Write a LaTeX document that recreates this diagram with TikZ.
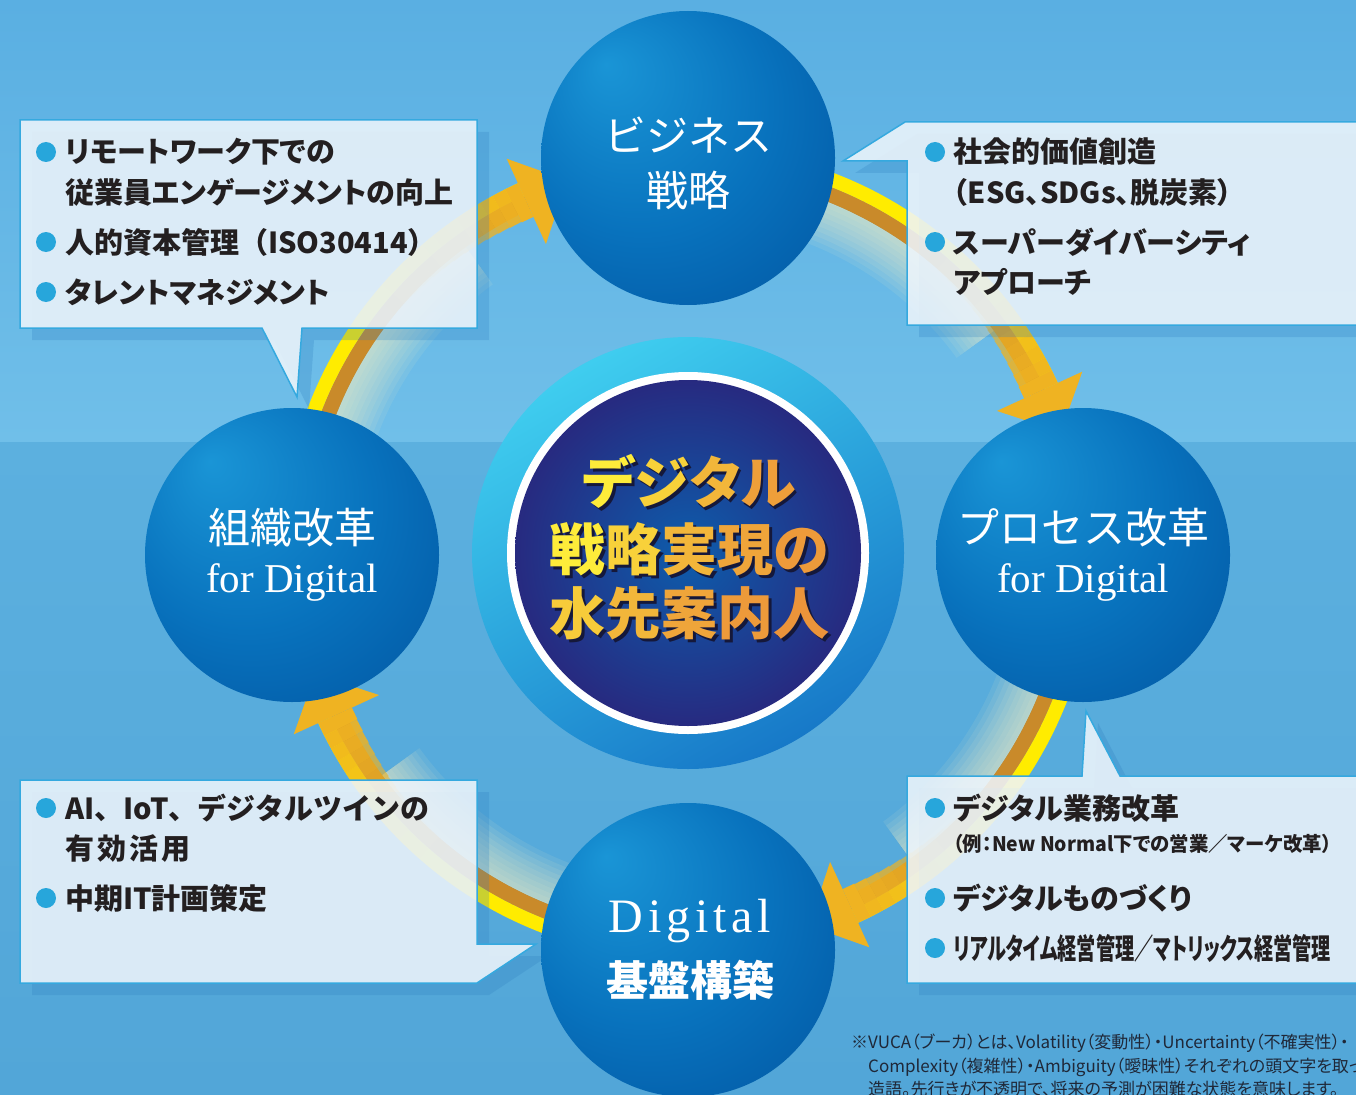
\documentclass[tikz,border=0pt]{standalone}
\usepackage{fontspec}
\usepackage{graphicx}
\newfontfamily\jp[RawFeature=+palt]{Noto Sans CJK JP}
\newfontfamily\jpm{Noto Sans CJK JP}
\newfontfamily\serf{Liberation Serif}
\newfontfamily\serfs[LetterSpace=10]{Liberation Serif}
\definecolor{bgA}{HTML}{5AAFE2}
\definecolor{bgB}{HTML}{70BFE9}
\definecolor{bgC}{HTML}{5CB0DF}
\definecolor{bgD}{HTML}{52A6D8}
\definecolor{boxfill}{HTML}{EEF5FB}
\definecolor{boxline}{HTML}{35A9DF}
\definecolor{shadowc}{HTML}{2E7FC0}
\definecolor{bulletc}{HTML}{27A6DB}
\definecolor{txt}{HTML}{231F20}
\definecolor{bandY}{HTML}{FFEC00}
\definecolor{bandB}{HTML}{C98A2A}
\definecolor{arrowO}{HTML}{EFB322}
\definecolor{glowc}{HTML}{FFF6C4}
\definecolor{ballA}{HTML}{1A95D6}
\definecolor{ballB}{HTML}{0872BD}
\definecolor{ballC}{HTML}{004E9A}
\definecolor{ringA}{HTML}{3FCDEF}
\definecolor{ringB}{HTML}{1779C8}
\definecolor{navyA}{HTML}{0D5DAC}
\definecolor{navyB}{HTML}{272A80}
\definecolor{tty}{HTML}{FFF23A}
\definecolor{tto}{HTML}{E8843A}
\definecolor{ttsh}{HTML}{15183A}
\definecolor{notec}{HTML}{1F2838}
\pgfdeclareradialshading{ballshade}{\pgfpoint{-14bp}{16bp}}{color(0bp)=(ballA); color(22bp)=(ballB); color(46bp)=(ballC); color(50bp)=(ballC)}
\newcommand\tcol[2]{\textcolor{tto!#1!tty}{#2}}
\newcommand\shadowed[2]{\rlap{\kern3pt\raisebox{-3pt}{\textcolor{ttsh}{#1}}}#2}
\tikzset{
  annsec/.style n args={4}{insert path={(#1:#3) arc[start angle=#1,end angle=#2,radius=#3] -- (#2:#4) arc[start angle=#2,end angle=#1,radius=#4] -- cycle}},
  ball/.style={circle, minimum size=294pt, inner sep=0pt, shading=ballshade},
  circtxt/.style={text=white, inner sep=0pt, font=\jpm\fontsize{42}{42}\selectfont},
  fortxt/.style={text=white, inner sep=0pt, font=\serf\fontsize{41}{41}\selectfont},
  bt/.style={anchor=base west, inner sep=0pt, text=txt, font=\jp\bfseries\fontsize{29}{34}\selectfont},
  btf/.style={anchor=base west, inner sep=0pt, text=txt, font=\jpm\bfseries\fontsize{29}{34}\selectfont},
  bts/.style={anchor=base west, inner sep=0pt, text=txt, font=\jp\bfseries\fontsize{20}{24}\selectfont},
  dot/.style={circle, fill=bulletc, minimum size=20pt, inner sep=0pt},
  ttl/.style={inner sep=0pt, font=\jp\bfseries\fontsize{56}{56}\selectfont},
  note/.style={anchor=base west, inner sep=0pt, text=notec, font=\jp\fontsize{17}{17}\selectfont},
  boxstyle/.style={fill=boxfill, fill opacity=0.88, draw=boxline, line width=1.5pt},
  shadowstyle/.style={fill=shadowc, opacity=0.25, xshift=12pt, yshift=-12pt}
}
\def\boxTL{(20,-120) -- (477,-120) -- (477,-328) -- (302,-328) -- (297,-397) -- (262,-328) -- (20,-328) -- cycle}
\def\boxTR{(907,-161) -- (843,-161) -- (905,-122) -- (1370,-122) -- (1370,-325) -- (907,-325) -- cycle}
\def\boxBR{(907,-776) -- (1082,-776) -- (1086,-711) -- (1120,-776) -- (1370,-776) -- (1370,-983) -- (907,-983) -- cycle}
\def\boxBL{(20,-780) -- (477,-780) -- (477,-944) -- (536,-944) -- (477,-983) -- (20,-983) -- cycle}
\begin{document}
\begin{tikzpicture}[x=1pt,y=1pt]
\useasboundingbox (0,0) rectangle (1356,-1094);
\clip (0,0) rectangle (1356,-1094);
% background
\shade[top color=bgA, bottom color=bgB] (0,0) rectangle (1356,-442);
\shade[top color=bgC, bottom color=bgD] (0,-442) rectangle (1356,-1094);
% cycle bands and arrows
\begin{scope}[shift={(688,-553)}]
\foreach \tA in {108,18,-72,-162}{
  \pgfmathsetmacro\arS{\tA+72}
  \pgfmathsetmacro\arB{\tA+6.7}
  \pgfmathsetmacro\arG{\tA+18}
  \foreach \gr in {332,337,...,377}{
    \fill[glowc, opacity=0.085, annsec={\arS}{\arG}{\gr}{378}];
  }
  \fill[bandB, annsec={\arS}{\arB}{378}{393}];
  \fill[bandY, annsec={\arS}{\arB}{393}{407}];
  \foreach \k in {0,...,12}{
    \pgfmathsetmacro\segA{\arB+26-2*\k}
    \pgfmathsetmacro\segB{\arB+24-2*\k}
    \pgfmathsetmacro\segO{(\k+1)/13}
    \pgfmathsetmacro\segR{378-8*\k/12}
    \fill[arrowO, opacity=\segO, annsec={\segA}{\segB}{\segR}{407}];
  }
  \fill[arrowO] (\tA:392) -- (\arB:340) -- (\arB:434) -- cycle;
}
\end{scope}
% callout boxes
\fill[shadowstyle] \boxTL;
\fill[shadowstyle] \boxTR;
\fill[shadowstyle] \boxBR;
\fill[shadowstyle] \boxBL;
\path[boxstyle] \boxTL;
\path[boxstyle] \boxTR;
\path[boxstyle] \boxBR;
\path[boxstyle] \boxBL;
% box texts: top-left
\node[dot] (d1) at (46,-152) {};
\node[bt] (t1a) at (65,-163) {リモートワーク下での};
\node[bt] (t1b) at (65,-203) {従業員エンゲージメントの向上};
\node[dot] (d2) at (46,-242) {};
\node[btf] (t2) at (65,-253) {人的資本管理（ISO30414）};
\node[dot] (d3) at (46,-292) {};
\node[bt] (t3) at (65,-303) {タレントマネジメント};
% top-right
\node[dot] (d4) at (935,-152) {};
\node[bt] (t4a) at (953,-163) {社会的価値創造};
\node[bt] (t4b) at (953,-203) {（ESG、SDGs、脱炭素）};
\node[dot] (d5) at (935,-242) {};
\node[bt] (t5a) at (953,-253) {スーパーダイバーシティ};
\node[bt] (t5b) at (953,-293) {アプローチ};
% bottom-left
\node[dot] (d6) at (46,-808) {};
\node[btf] (t6a) at (65,-819) {AI、IoT、デジタルツインの};
\node[btf] (t6b) at (65,-859) {有\hspace{3pt}効\hspace{3pt}活\hspace{3pt}用};
\node[dot] (d7) at (46,-898) {};
\node[bt] (t7) at (65,-909) {中期IT計画策定};
% bottom-right
\node[dot] (d8) at (935,-808) {};
\node[bt] (t8a) at (953,-819) {デジタル業務改革};
\node[bts] (t8b) at (953,-851) {\scalebox{0.97}[1]{（例：New Normal下での営業／マーケ改革）}};
\node[dot] (d9) at (935,-898) {};
\node[bt] (t9) at (953,-909) {デジタルものづくり};
\node[dot] (d10) at (935,-948) {};
\node[bt] (t10) at (953,-959) {\scalebox{0.66}[1]{リアルタイム経営管理／マトリックス経営管理}};
% four circles
\node[ball] (biz) at (688,-158) {};
\node[ball] (proc) at (1083,-555) {};
\node[ball] (digi) at (688,-950) {};
\node[ball] (org) at (292,-555) {};
\node[circtxt] (bizA) at (688,-135) {ビジネス};
\node[circtxt] (bizB) at (688,-190) {戦略};
\node[circtxt] (orgA) at (292,-528) {組織改革};
\node[fortxt] (orgB) at (292,-582) {for Digital};
\node[circtxt] (procA) at (1083,-528) {プロセス改革};
\node[fortxt] (procB) at (1083,-582) {for Digital};
\node[text=white, inner sep=0pt, font=\serfs\fontsize{48}{48}\selectfont] (digA) at (690,-921) {Digital};
\node[circtxt, font=\jpm\bfseries\fontsize{42}{42}\selectfont] (digB) at (690,-980) {基盤構築};
% centre
\node[circle, minimum size=432pt, inner sep=0pt, shading=axis, top color=ringA, bottom color=ringB, shading angle=30] (ringO) at (688,-553) {};
\node[circle, minimum size=362pt, inner sep=0pt, fill=white] (ringW) at (688,-553) {};
\node[circle, minimum size=346pt, inner sep=0pt, shading=radial, inner color=navyA, outer color=navyB] (ringN) at (688,-553) {};
\node[ttl] (T1) at (689,-483) {\shadowed{デジタル}{\tcol{5}{デ}\tcol{30}{ジ}\tcol{55}{タ}\tcol{75}{ル}}};
\node[ttl] (T2) at (689,-551) {\shadowed{戦略実現の}{\tcol{5}{戦}\tcol{30}{略}\tcol{55}{実}\tcol{70}{現}\tcol{80}{の}}};
\node[ttl] (T3) at (689,-615) {\shadowed{水先案内人}{\tcol{35}{水}\tcol{55}{先}\tcol{70}{案}\tcol{80}{内}\tcol{85}{人}}};
% footnote
\node[note] (fn1) at (851,-1048) {※VUCA（ブーカ）とは、Volatility（変動性）・Uncertainty（不確実性）・};
\node[note] (fn2) at (868,-1072) {Complexity（複雑性）・Ambiguity（曖昧性）それぞれの頭文字を取った};
\node[note] (fn3) at (868,-1095) {造語。先行きが不透明で、将来の予測が困難な状態を意味します。};
\end{tikzpicture}
\end{document}
